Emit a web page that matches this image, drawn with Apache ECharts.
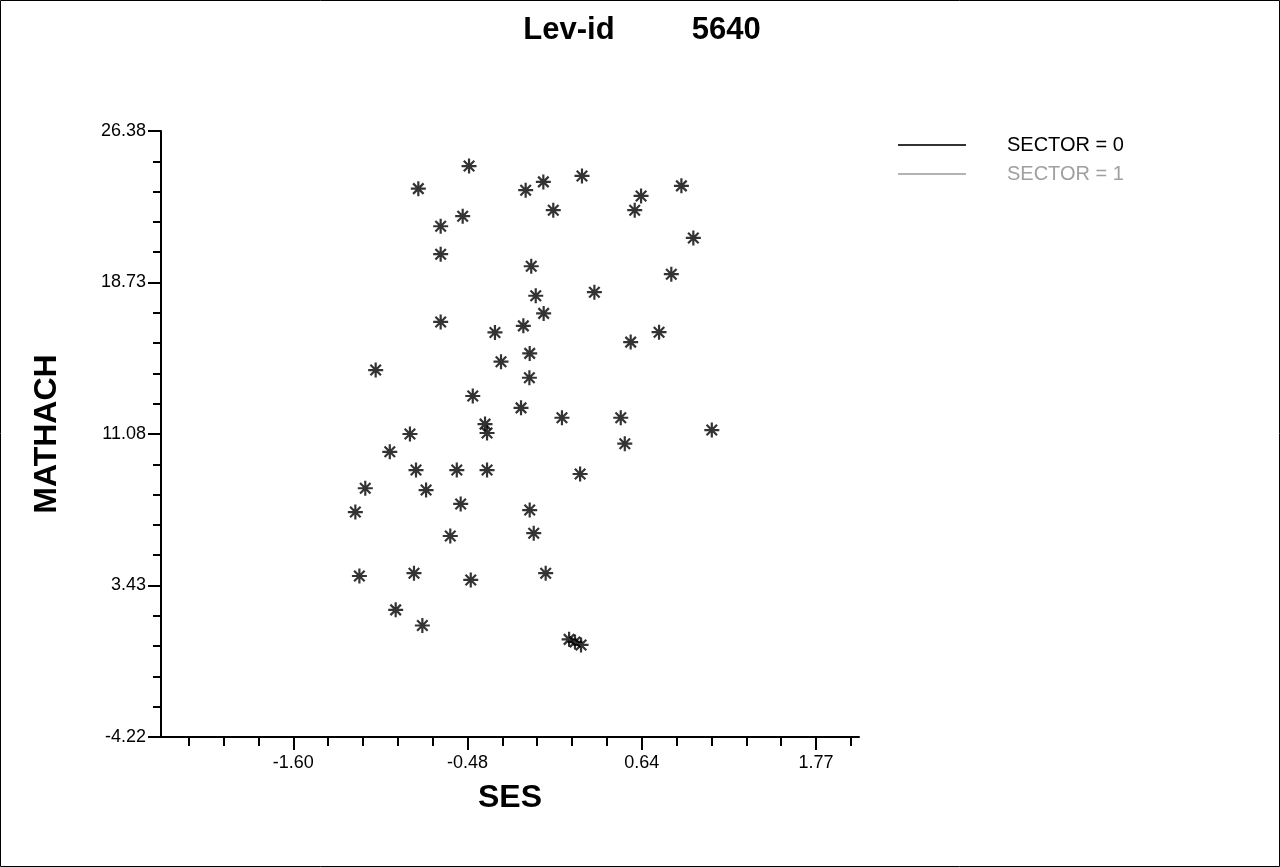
<!DOCTYPE html>
<html>
<head>
<meta charset="utf-8">
<script src="https://cdn.jsdelivr.net/npm/echarts@6/dist/echarts.min.js"></script>
<style>
html,body{margin:0;padding:0;background:#fff;}
#chart{width:1280px;height:867px;}
</style>
</head>
<body>
<div id="chart"></div>
<script>
// ---- data ----
const titleLeft = 'Lev-id';
const titleRight = '5640';
const xName = 'SES';
const yName = 'MATHACH';
const seriesNames = ['SECTOR = 0', 'SECTOR = 1'];

const ses = [
  -0.470, -0.797, -0.105, 0.009, 0.258, -0.511, 0.073, -0.653, -0.653, -0.069,
  -0.040, 0.011, -0.120, -0.653, -0.303, -0.079, -0.264, -1.072, -0.081, 0.639,
  0.598, 0.899, 0.976, 0.834, 0.338, 0.755, 0.572, -0.446, -0.135, 0.129,
  -0.367, -0.354, -0.851, -0.981, -0.812, -0.549, -0.354, 0.246, -1.139, -0.747,
  -0.524, -1.203, -0.079, -0.053, -0.591, -1.177, -0.825, -0.459, 0.024, -0.943,
  -0.771, 0.175, 0.213, 0.252, 0.508, 1.095, 0.534
];
const mathach = [
  24.61, 23.47, 23.39, 23.81, 24.11, 22.08, 22.38, 21.57, 20.16, 19.55,
  18.06, 17.17, 16.54, 16.74, 16.21, 15.15, 14.73, 14.31, 13.92, 23.10,
  22.38, 23.61, 20.98, 19.15, 18.24, 16.22, 15.72, 13.00, 12.40, 11.90,
  11.58, 11.13, 11.08, 10.18, 9.26, 9.26, 9.26, 9.06, 8.34, 8.25,
  7.55, 7.14, 7.24, 6.07, 5.93, 3.91, 4.05, 3.71, 4.05, 2.20,
  1.41, 0.71, 0.58, 0.43, 11.90, 11.28, 10.59
];
const sector1Ses = [];
const sector1Mathach = [];

// axis ticks
const yTickLabels = [-4.22, 3.43, 11.08, 18.73, 26.38];
const xTickLabels = [-1.603, -0.4797, 0.6436, 1.7669];
const xMin = -2.456, xMax = 2.044;
const xMinorStep = (xTickLabels[1] - xTickLabels[0]) / 5;
const xMinorTicks = [];
for (let v = xTickLabels[0] - 3 * xMinorStep; v < xMax; v += xMinorStep) xMinorTicks.push(+v.toFixed(4));

const FONT = "'Liberation Sans', Arial, sans-serif";
const starPath = 'path://M10,0L10,20M0,10L20,10M3,3L17,17M3,17L17,3';

const chart = echarts.init(document.getElementById('chart'), null, {renderer: 'canvas'});
chart.setOption({
  backgroundColor: '#fff',
  animation: false,
  title: {
    text: '{a|' + titleLeft + '}{b|' + titleRight + '}',
    left: 637, top: 10, textAlign: 'center',
    textStyle: {
      rich: {
        a: {fontFamily: FONT, fontWeight: 'bold', fontSize: 31, color: '#000'},
        b: {fontFamily: FONT, fontWeight: 'bold', fontSize: 31, color: '#000', padding: [0, 0, 0, 77]}
      }
    }
  },
  legend: {
    orient: 'vertical',
    left: 893, top: 130,
    icon: 'rect',
    itemWidth: 68, itemHeight: 2,
    itemGap: 9,
    selectedMode: false,
    textStyle: {fontFamily: FONT, fontSize: 20, padding: [0, 0, 0, 36]},
    data: [
      {name: seriesNames[0], itemStyle: {color: '#000', borderWidth: 0}, textStyle: {color: '#000'}},
      {name: seriesNames[1], itemStyle: {color: '#a0a0a0', borderWidth: 0}, textStyle: {color: '#a0a0a0'}}
    ]
  },
  grid: {left: 161, top: 131, width: 698, height: 606, containLabel: false},
  xAxis: [{
    type: 'value', position: 'bottom',
    min: xMin, max: xMax,
    name: xName, nameLocation: 'middle', nameGap: 45, nameMoveOverlap: false,
    nameTextStyle: {fontFamily: FONT, fontWeight: 'bold', fontSize: 32, color: '#000'},
    axisLine: {show: true, onZero: false, lineStyle: {color: '#000', width: 2}},
    axisTick: {show: true, length: 13, lineStyle: {color: '#000', width: 2}, customValues: xTickLabels},
    axisLabel: {show: true, margin: 17, customValues: xTickLabels, fontFamily: FONT, fontSize: 18, color: '#000',
      formatter: v => v.toFixed(2)},
    splitLine: {show: false}
  }, {
    type: 'value', position: 'bottom',
    min: xMin, max: xMax,
    axisLine: {show: false, onZero: false},
    axisTick: {show: true, length: 9, lineStyle: {color: '#000', width: 2}, customValues: xMinorTicks},
    axisLabel: {show: false},
    splitLine: {show: false}
  }],
  yAxis: {
    type: 'value',
    min: yTickLabels[0], max: yTickLabels[yTickLabels.length - 1], interval: 7.65,
    name: yName, nameLocation: 'middle', nameGap: 98,
    nameTextStyle: {fontFamily: FONT, fontWeight: 'bold', fontSize: 32, color: '#000'},
    axisLine: {show: true, onZero: false, lineStyle: {color: '#000', width: 2}},
    axisTick: {show: true, length: 13, lineStyle: {color: '#000', width: 2}},
    minorTick: {show: true, splitNumber: 5, length: 8, lineStyle: {color: '#000', width: 2}},
    axisLabel: {margin: 15, fontFamily: FONT, fontSize: 18, color: '#000', formatter: v => v.toFixed(2)},
    splitLine: {show: false}
  },
  series: [{
    name: seriesNames[0], type: 'scatter',
    symbol: starPath, symbolSize: 15,
    itemStyle: {color: 'transparent', borderColor: '#000', borderWidth: 2.2},
    data: ses.map((x, i) => [x, mathach[i]])
  }, {
    name: seriesNames[1], type: 'scatter',
    symbol: starPath, symbolSize: 15,
    itemStyle: {color: 'transparent', borderColor: '#a0a0a0', borderWidth: 2.2},
    data: sector1Ses.map((x, i) => [x, sector1Mathach[i]])
  }],
  graphic: [{
    type: 'rect', silent: true, z: 100,
    shape: {x: 0.5, y: 0.5, width: 1279, height: 866},
    style: {fill: 'none', stroke: '#000', lineWidth: 1}
  }]
});
</script>
</body>
</html>
